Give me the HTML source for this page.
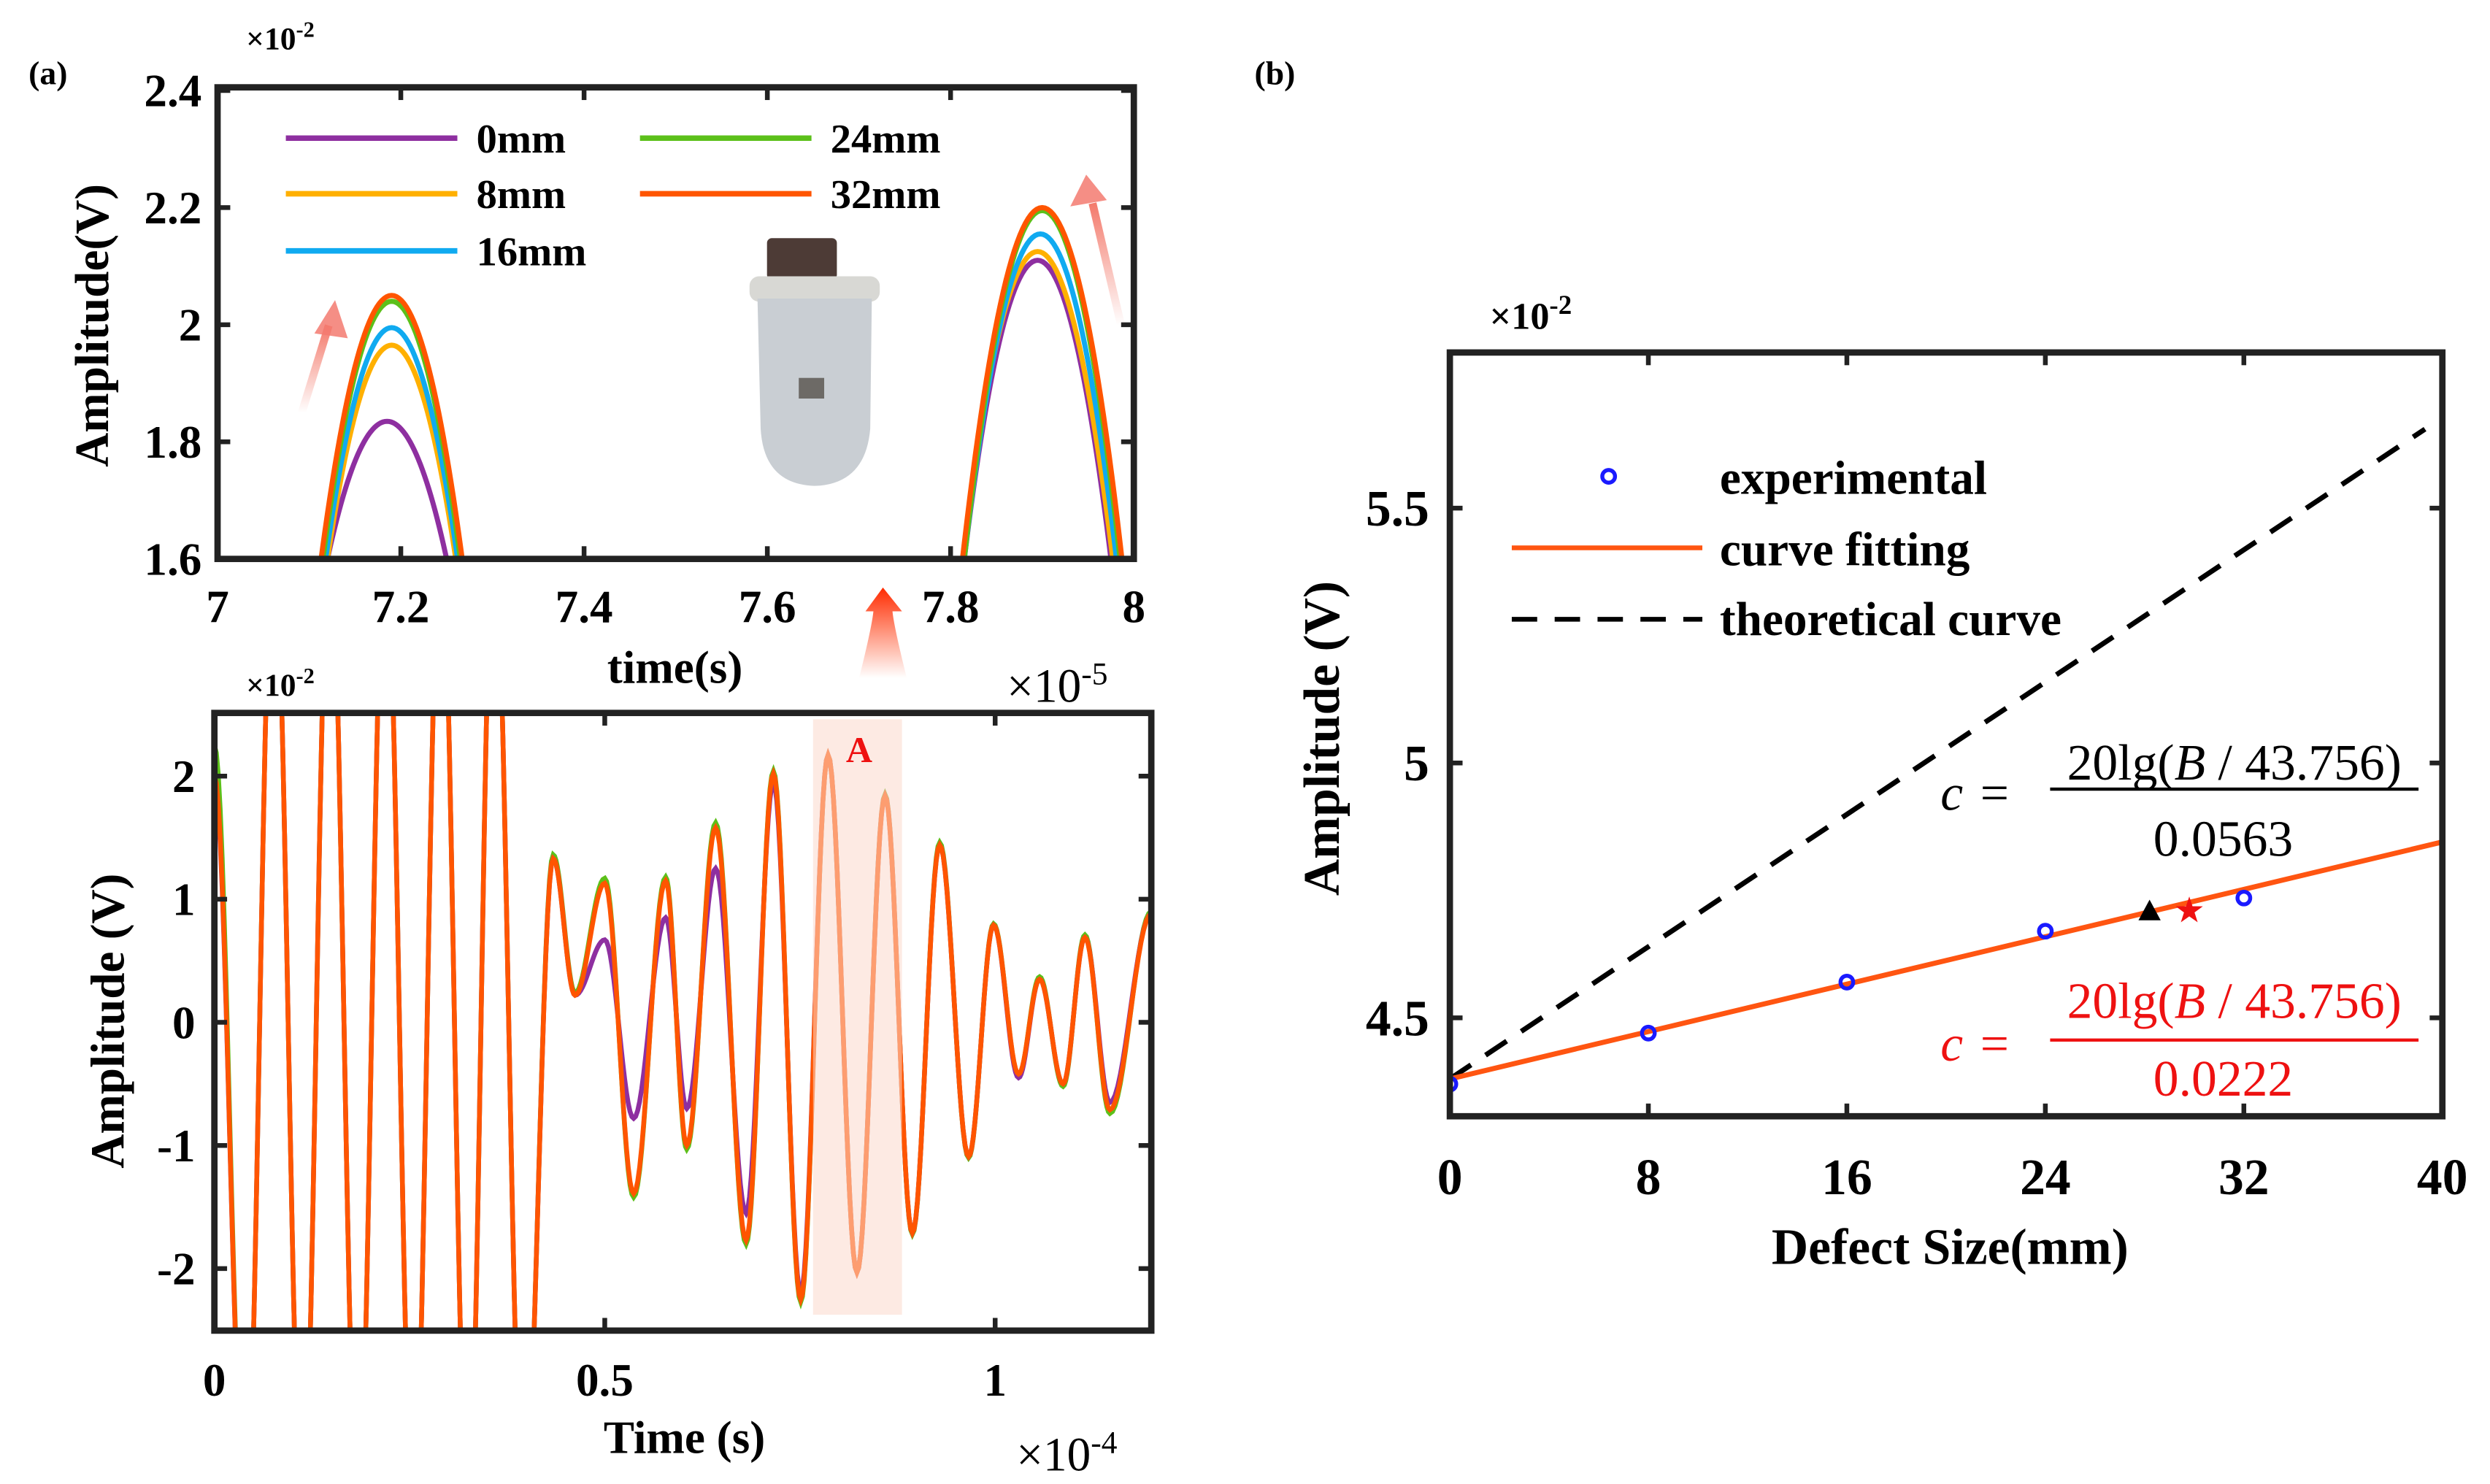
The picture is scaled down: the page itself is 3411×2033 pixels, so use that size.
<!DOCTYPE html>
<html><head><meta charset="utf-8">
<style>
html,body{margin:0;padding:0;background:#fff;}
svg{display:block;font-family:"Liberation Serif","Times New Roman",serif;}
svg text{font-family:"Liberation Serif","Times New Roman",serif;}
</style></head>
<body>
<svg id="fig" width="3411" height="2033" viewBox="0 0 1568 934.6" preserveAspectRatio="none" xmlns="http://www.w3.org/2000/svg" font-family="Liberation Serif, Times New Roman, serif">
<defs>
<linearGradient id="gUp" x1="0" y1="1" x2="0" y2="0"><stop offset="0" stop-color="#f26b5b" stop-opacity="0"/><stop offset="1" stop-color="#f26b5b" stop-opacity="0.9"/></linearGradient>
<linearGradient id="gRed" x1="0" y1="1" x2="0" y2="0"><stop offset="0" stop-color="#ff3300" stop-opacity="0"/><stop offset="1" stop-color="#ff2a00" stop-opacity="1"/></linearGradient>
<clipPath id="clipA"><rect x="137" y="55" width="577" height="297"/></clipPath>
<clipPath id="clipB"><rect x="135" y="449" width="590" height="389"/></clipPath>
<clipPath id="clipC"><rect x="913" y="222" width="625" height="481"/></clipPath>
</defs>
</svg>
<script>
// ---------- data: panel (a) top zoom ----------
const topSeries = ['0mm','8mm','16mm','24mm','32mm'];
const topColors = ['#8e2fa0','#ffb000','#10aaf0','#5cc01a','#ff5500'];
const leftPeakT = [7.185,7.19,7.19,7.19,7.19];
const leftPeakV = [1.835,1.965,1.995,2.04,2.05];
const leftHalfW = [0.065,0.07,0.072,0.075,0.077];
const rightPeakT = [7.895,7.895,7.898,7.9,7.9];
const rightPeakV = [2.11,2.125,2.155,2.195,2.2];
const rightHalfW = [0.08,0.082,0.083,0.085,0.087];
const topYTicks = [1.6,1.8,2,2.2,2.4];
const topYTickLabels = ['1.6','1.8','2','2.2','2.4'];
const topXTicks = [7,7.2,7.4,7.6,7.8,8];
const topXTickLabels = ['7','7.2','7.4','7.6','7.8','8'];
// ---------- data: panel (a) full waveform (extrema) ----------
const waveT = [0,0.040,0.076,0.113,0.148,0.184,0.219,0.255,0.290,0.325,0.358,0.396,0.434,0.462,0.500,0.537,0.578,0.605,0.642,0.681,0.716,0.751,0.786,0.823,0.859,0.894,0.929,0.966,0.998,1.030,1.057,1.087,1.115,1.147,1.2];
const waveOrange = [2.0,-4,4,-4,4,-4,4,-4,4,-4,4,-4,1.33,0.22,1.13,-1.39,1.15,-1.0,1.58,-1.77,2.02,-2.25,2.17,-2.03,1.84,-1.71,1.44,-1.09,0.79,-0.42,0.35,-0.5,0.69,-0.71,0.88];
const wavePurple = [1.95,-4,4,-4,4,-4,4,-4,4,-4,4,-4,1.33,0.22,0.67,-0.78,0.85,-0.7,1.25,-1.55,1.95,-2.2,2.17,-2.03,1.84,-1.71,1.44,-1.09,0.79,-0.45,0.35,-0.5,0.69,-0.65,0.88];
const waveGreen = [2.25,-4,4,-4,4,-4,4,-4,4,-4,4,-4,1.36,0.24,1.17,-1.42,1.18,-1.03,1.62,-1.8,2.04,-2.27,2.17,-2.03,1.85,-1.72,1.46,-1.1,0.8,-0.43,0.37,-0.52,0.71,-0.74,0.9];
const botYTicks = [-2,-1,0,1,2];
const botYTickLabels = ['-2','-1','0','1','2'];
const botXTicks = [0,0.5,1];
const botXTickLabels = ['0','0.5','1'];
// ---------- data: panel (b) ----------
const defectSizes = [0,8,16,24,32];
const expAmp = [4.37,4.47,4.57,4.67,4.735];
const fitX = [0,40];
const fitY = [4.38,4.845];
const theoX = [0,39.3];
const theoY = [4.38,5.655];
const triPoint = [28.2,4.71];
const starPoint = [29.8,4.71];
const bXTicks = [0,8,16,24,32,40];
const bXTickLabels = ['0','8','16','24','32','40'];
const bYTicks = [4.5,5,5.5];
const bYTickLabels = ['4.5','5','5.5'];

const NS='http://www.w3.org/2000/svg';
const svg=document.getElementById('fig');
const FF='Liberation Serif, Times New Roman, serif';
function mk(tag,attrs,parent){const e=document.createElementNS(NS,tag);for(const k in attrs)e.setAttribute(k,attrs[k]);(parent||svg).appendChild(e);return e;}
function txt(s,attrs,parent){attrs['font-family']=FF;const e=mk('text',attrs,parent);e.textContent=s;return e;}
function expo(base,sup,attrs,supSize,parent){const e=txt('',attrs,parent);e.textContent=base;const ts=document.createElementNS(NS,'tspan');ts.setAttribute('dy',-(supSize*0.55));ts.setAttribute('font-size',supSize);ts.textContent=sup;e.appendChild(ts);return e;}
function lin(d0,d1,r0,r1){return v=>r0+(v-d0)*(r1-r0)/(d1-d0);}

// ================= Panel (a) top =================
const ax1=lin(7,8,137,714), ay1=lin(1.6,2.4,352,57);
const gTop=mk('g',{});


const gTopLines=mk('g',{'clip-path':'url(#clipA)'},gTop);
for(let i=0;i<topSeries.length;i++){
  [[leftPeakT,leftPeakV,leftHalfW],[rightPeakT,rightPeakV,rightHalfW]].forEach((arr,j)=>{
    const t0=arr[0][i],pv=arr[1][i],w=arr[2][i];
    const k=(pv-1.6)/(w*w);
    let d='';
    for(let n=0;n<=60;n++){const t=t0-w*1.05+n*(2.1*w/60);const v=pv-k*(t-t0)*(t-t0);d+=(n?'L':'M')+ax1(t).toFixed(2)+','+ay1(v).toFixed(2);}
    const p=mk('path',{d:d,fill:'none',stroke:topColors[i],'stroke-width':3.2},gTopLines);
    
    
  });
}
const box1=mk('rect',{x:137,y:55,width:577,height:297,fill:'none',stroke:'#222','stroke-width':4},gTop);


topYTicks.forEach((v,i)=>{
  const y=ay1(v);
  mk('line',{x1:137,x2:145,y1:y,y2:y,stroke:'#222','stroke-width':3},gTop);
  mk('line',{x1:706,x2:714,y1:y,y2:y,stroke:'#222','stroke-width':3},gTop);
  const t=txt(topYTickLabels[i],{x:127,y:y+10,'text-anchor':'end','font-size':29,'font-weight':'bold'},gTop);
  
  
});
topXTicks.forEach((v,i)=>{
  const x=ax1(v);
  mk('line',{x1:x,x2:x,y1:352,y2:344,stroke:'#222','stroke-width':3},gTop);
  mk('line',{x1:x,x2:x,y1:55,y2:63,stroke:'#222','stroke-width':3},gTop);
  const t=txt(topXTickLabels[i],{x:x,y:392,'text-anchor':'middle','font-size':29,'font-weight':'bold'},gTop);
  
  
});
const legPos=[[180,87],[180,122],[180,158],[403,87],[403,122]];
const gLeg=mk('g',{},gTop);


topSeries.forEach((s,i)=>{
  const [x,y]=legPos[i];
  mk('line',{x1:x,x2:x+108,y1:y,y2:y,stroke:topColors[i],'stroke-width':3.5},gLeg);
  const t=txt(s,{x:x+120,y:y+9,'font-size':26,'font-weight':'bold'},gLeg);
  
  
});
const gPh=mk('g',{},gTop);


mk('rect',{x:483,y:150,width:44,height:26,fill:'#4d3b36',rx:3},gPh);
mk('rect',{x:472,y:174,width:82,height:16,fill:'#d8d8d4',rx:6},gPh);
mk('path',{d:'M477,188 L549,188 L548,270 Q545,305 513,306 Q481,305 479,270 Z',fill:'#c9ced3'},gPh);
mk('rect',{x:503,y:238,width:16,height:13,fill:'#6d6a66'},gPh);
const ar1=mk('path',{d:'M190,260 L207,205',stroke:'url(#gUp)','stroke-width':5,fill:'none'},gTop);


mk('path',{d:'M198,210 L211,189 L219,213 Z',fill:'#f37a70',opacity:0.85},gTop);
mk('path',{d:'M706,205 L688,128',stroke:'url(#gUp)','stroke-width':5,fill:'none'},gTop);
mk('path',{d:'M674,130 L684,110 L697,126 Z',fill:'#f37a70',opacity:0.85},gTop);
const ar3=mk('path',{d:'M541,427 Q549,395 550,385 L545,385 L556,370 L568,385 L562,385 Q563,395 571,427 Z',fill:'url(#gRed)'},gTop);


const tl=txt('time(s)',{x:425,y:430,'text-anchor':'middle','font-size':29,'font-weight':'bold'},gTop);


const yl=txt('Amplitude(V)',{transform:'translate(68,205) rotate(-90)','text-anchor':'middle','font-size':30,'font-weight':'bold'},gTop);


const ex1=expo('×10','-2',{x:155,y:31,'font-size':20,'font-weight':'bold'},14,gTop);


const ex2=expo('×10','-5',{x:634,y:442,'font-size':30},20,gTop);


const la=txt('(a)',{x:18,y:53,'font-size':21,'font-weight':'bold'});



// ================= Panel (a) bottom =================
const ax2=lin(0,1.2,135,725), ay2=lin(-2.5,2.5,837.7,450);
const gBot=mk('g',{});


const gBotL=mk('g',{'clip-path':'url(#clipB)'},gBot);
function wavePath(vals){
  let d='';
  for(let i=0;i<waveT.length-1;i++){
    const t0=waveT[i],t1=waveT[i+1],v0=vals[i],v1=vals[i+1];
    for(let n=(i?1:0);n<=16;n++){const u=n/16;const t=t0+(t1-t0)*u;const v=v0+(v1-v0)*(1-Math.cos(Math.PI*u))/2;d+=(d?'L':'M')+ax2(t).toFixed(2)+','+ay2(v).toFixed(2);}
  }
  return d;
}
const wg=mk('path',{d:wavePath(waveGreen),fill:'none',stroke:'#5cc01a','stroke-width':3},gBotL);


const wp=mk('path',{d:wavePath(wavePurple),fill:'none',stroke:'#8e2fa0','stroke-width':3},gBotL);


const wo=mk('path',{d:wavePath(waveOrange),fill:'none',stroke:'#ff5500','stroke-width':3},gBotL);


const hl=mk('rect',{x:512,y:453,width:56,height:375,fill:'#fbd9cc',opacity:0.55},gBot);


const ta=txt('A',{x:541,y:480,'text-anchor':'middle','font-size':23,'font-weight':'bold',fill:'#ee1111'},gBot);


const box2=mk('rect',{x:135,y:449,width:590,height:389,fill:'none',stroke:'#222','stroke-width':4},gBot);


botYTicks.forEach((v,i)=>{
  const y=ay2(v);
  mk('line',{x1:135,x2:143,y1:y,y2:y,stroke:'#222','stroke-width':3},gBot);
  mk('line',{x1:717,x2:725,y1:y,y2:y,stroke:'#222','stroke-width':3},gBot);
  const t=txt(botYTickLabels[i],{x:123,y:y+10,'text-anchor':'end','font-size':29,'font-weight':'bold'},gBot);
  
  
});
botXTicks.forEach((v,i)=>{
  const x=ax2(v);
  mk('line',{x1:x,x2:x,y1:838,y2:830,stroke:'#222','stroke-width':3},gBot);
  mk('line',{x1:x,x2:x,y1:449,y2:457,stroke:'#222','stroke-width':3},gBot);
  const t=txt(botXTickLabels[i],{x:x,y:879,'text-anchor':'middle','font-size':29,'font-weight':'bold'},gBot);
  
  
});
const bxl=txt('Time (s)',{x:431,y:915,'text-anchor':'middle','font-size':29,'font-weight':'bold'},gBot);


const byl=txt('Amplitude (V)',{transform:'translate(78,643) rotate(-90)','text-anchor':'middle','font-size':30,'font-weight':'bold'},gBot);


const ex3=expo('×10','-2',{x:155,y:438,'font-size':20,'font-weight':'bold'},14,gBot);


const ex4=expo('×10','-4',{x:640,y:926,'font-size':30},20,gBot);



// ================= Panel (b) =================
const ax3=lin(0,40,913,1538), ay3=lin(4.5,5.5,641,320);
const gB=mk('g',{});


const gBL=mk('g',{'clip-path':'url(#clipC)'},gB);
const th=mk('line',{x1:ax3(theoX[0]),y1:ay3(theoY[0]),x2:ax3(theoX[1]),y2:ay3(theoY[1]),stroke:'#000','stroke-width':3.2,'stroke-dasharray':'16,11'},gBL);


const ft=mk('line',{x1:ax3(fitX[0]),y1:ay3(fitY[0]),x2:ax3(fitX[1]),y2:ay3(fitY[1]),stroke:'#ff5511','stroke-width':3.2},gBL);


defectSizes.forEach((d,i)=>{
  const c=mk('circle',{cx:ax3(d),cy:ay3(expAmp[i]),r:4,fill:'none',stroke:'#1a1aff','stroke-width':2.5},gBL);
  
  
});
const tx=ax3(triPoint[0]),ty=ay3(triPoint[1]);
const tri=mk('path',{d:`M${tx-7},${ty+6} L${tx},${ty-7} L${tx+7},${ty+6} Z`,fill:'#000'},gB);


const sx=ax3(starPoint[0]),sy=ay3(starPoint[1]);
let sp='';for(let k=0;k<10;k++){const r=k%2?3.5:9;const a=-Math.PI/2+k*Math.PI/5;sp+=(k?'L':'M')+(sx+r*Math.cos(a)).toFixed(2)+','+(sy+r*Math.sin(a)).toFixed(2);}
const st=mk('path',{d:sp+'Z',fill:'#ee1111'},gB);


const box3=mk('rect',{x:913,y:222,width:625,height:481,fill:'none',stroke:'#222','stroke-width':4},gB);


bYTicks.forEach((v,i)=>{
  const y=ay3(v);
  mk('line',{x1:913,x2:921,y1:y,y2:y,stroke:'#222','stroke-width':3},gB);
  mk('line',{x1:1530,x2:1538,y1:y,y2:y,stroke:'#222','stroke-width':3},gB);
  const t=txt(bYTickLabels[i],{x:900,y:y+11,'text-anchor':'end','font-size':32,'font-weight':'bold'},gB);
  
  
});
bXTicks.forEach((v,i)=>{
  const x=ax3(v);
  mk('line',{x1:x,x2:x,y1:703,y2:695,stroke:'#222','stroke-width':3},gB);
  mk('line',{x1:x,x2:x,y1:222,y2:230,stroke:'#222','stroke-width':3},gB);
  const t=txt(bXTickLabels[i],{x:x,y:752,'text-anchor':'middle','font-size':32,'font-weight':'bold'},gB);
  
  
});
const gL2=mk('g',{},gB);


mk('circle',{cx:1013,cy:300,r:4,fill:'none',stroke:'#1a1aff','stroke-width':2.5},gL2);
mk('line',{x1:952,x2:1072,y1:345,y2:345,stroke:'#ff5511','stroke-width':3},gL2);
mk('line',{x1:952,x2:1072,y1:390,y2:390,stroke:'#000','stroke-width':3,'stroke-dasharray':'16,11'},gL2);
[['experimental',311],['curve fitting',356],['theoretical curve',400]].forEach(([s,y])=>{
  const t=txt(s,{x:1083,y:y,'font-size':30,'font-weight':'bold'},gL2);
  
  
});
function eq(yNum,yLine,yDen,den,color,name){
  const g=mk('g',{fill:color},gB);
  
  
  txt('c',{x:1222,y:yLine+13,'font-size':32,'font-style':'italic'},g);
  txt('=',{x:1247,y:yLine+13,'font-size':32},g);
  const n=txt('',{x:1407,y:yNum,'text-anchor':'middle','font-size':32},g);
  n.appendChild(document.createTextNode('20lg('));
  const ib=document.createElementNS(NS,'tspan');ib.setAttribute('font-style','italic');ib.textContent='B';n.appendChild(ib);
  n.appendChild(document.createTextNode(' / 43.756)'));
  mk('line',{x1:1291,x2:1523,y1:yLine,y2:yLine,stroke:color,'stroke-width':2},g);
  txt(den,{x:1400,y:yDen,'text-anchor':'middle','font-size':32},g);
}
eq(491,497,539,'0.0563','#000','theoretical-equation');
eq(641,655,690,'0.0222','#ee1111','fitted-equation');
const rxl=txt('Defect Size(mm)',{x:1228,y:796,'text-anchor':'middle','font-size':32,'font-weight':'bold'},gB);


const ryl=txt('Amplitude (V)',{transform:'translate(843,465) rotate(-90)','text-anchor':'middle','font-size':32,'font-weight':'bold'},gB);


const ex5=expo('×10','-2',{x:938,y:207,'font-size':24,'font-weight':'bold'},17,gB);


const lb=txt('(b)',{x:790,y:53,'font-size':21,'font-weight':'bold'});


</script>
</body></html>
